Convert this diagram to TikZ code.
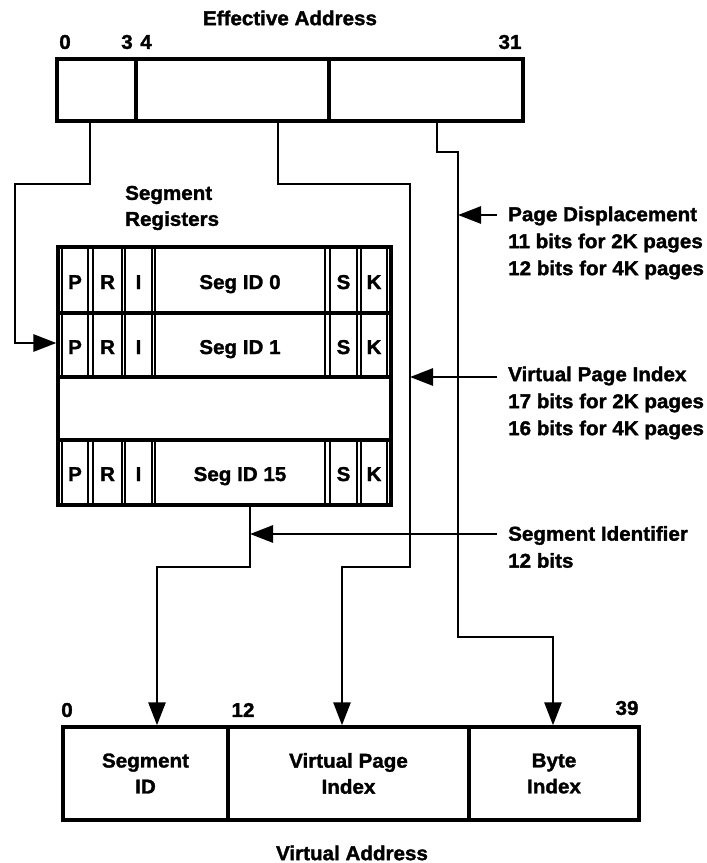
\documentclass[tikz,border=0pt]{standalone}
\usepackage{fontspec}
\setmainfont{Liberation Sans}[FakeStretch=1.03,FakeBold=1.6]
\usetikzlibrary{arrows.meta}
\begin{document}
\begin{tikzpicture}[x=1pt,y=-1pt,
  every node/.style={font=\fontsize{20}{26}\selectfont\bfseries, inner sep=0pt},
  field/.style={draw, line width=3.4pt},
  wire/.style={line width=2.8pt},
  wirearrow/.style={wire, -{Triangle[length=23pt,width=17pt]}},
  cellline/.style={line width=2.2pt},
  rowline/.style={line width=3.2pt},
  sidelabel/.style={anchor=west, align=left, font=\fontsize{20}{27}\selectfont\bfseries}
]
\useasboundingbox (0,0) rectangle (707,863);

% Effective address
\node (eatitle) at (290,18) {Effective Address};
\node (eab0) at (65,42) {0};
\node (eab3) at (127,42) {3};
\node (eab4) at (146,42) {4};
\node (eab31) at (510,42) {31};
\node[field, minimum width=79pt, minimum height=62pt] (ea0) at (96.5,90) {};
\node[field, minimum width=193pt, minimum height=62pt] (ea1) at (232.5,90) {};
\node[field, minimum width=194pt, minimum height=62pt] (ea2) at (426,90) {};

% Segment registers
\node[anchor=west, align=left] (srtitle) at (125,208) {Segment\\Registers};
\node[draw, line width=3.2pt, minimum width=333pt, minimum height=258pt] (sr) at (224.5,376) {};
\draw[rowline] (58,313) -- (391,313);
\draw[rowline] (58,377) -- (391,377);
\draw[rowline] (58,440) -- (391,440);
\foreach \ya/\yb in {247/313, 313/377, 440/505}{
  \foreach \xx in {62,88,93,122,125,152,155,325,330,357,361,387}{
    \draw[cellline] (\xx,\ya) -- (\xx,\yb);
  }
}
\foreach \yy/\nm/\lab in {282/a/0, 347/b/1, 474/c/15}{
  \node[text height=14pt, text depth=0pt] (p\nm) at (75,\yy) {P};
  \node[text height=14pt, text depth=0pt] (r\nm) at (107.5,\yy) {R};
  \node[text height=14pt, text depth=0pt] (i\nm) at (138.5,\yy) {I};
  \node[text height=14pt, text depth=0pt] (sid\nm) at (240,\yy) {Seg ID \lab};
  \node[text height=14pt, text depth=0pt] (s\nm) at (343.5,\yy) {S};
  \node[text height=14pt, text depth=0pt] (k\nm) at (374,\yy) {K};
}

% Virtual address
\node (vab0) at (67,710) {0};
\node (vab12) at (243,710) {12};
\node (vab39) at (627,708) {39};
\node[field, minimum width=165pt, minimum height=93pt, align=center] (va0) at (145.5,773.5) {Segment\\ID};
\node[field, minimum width=241pt, minimum height=93pt, align=center] (va1) at (348.5,773.5) {Virtual Page\\Index};
\node[field, minimum width=170pt, minimum height=93pt, align=center] (va2) at (554,773.5) {Byte\\Index};
\node (vatitle) at (352,853) {Virtual Address};

% Side labels
\node[sidelabel] (pd) at (508,243) {Page Displacement\\11 bits for 2K pages\\12 bits for 4K pages};
\node[sidelabel] (vpi) at (508,403) {Virtual Page Index\\17 bits for 2K pages\\16 bits for 4K pages};
\node[sidelabel] (sid) at (508,547) {Segment Identifier\\12 bits};

% Wire coordinates
\coordinate (a1) at (90,184);
\coordinate (a2) at (15,184);
\coordinate (a3) at (15,343);
\coordinate (b1) at (278,184);
\coordinate (b2) at (410,184);
\coordinate (b3) at (410,567);
\coordinate (b4) at (342,567);
\coordinate (c1) at (437,152);
\coordinate (c2) at (458,152);
\coordinate (c3) at (458,637);
\coordinate (c4) at (553,637);
\coordinate (s1) at (250,567);
\coordinate (s2) at (157,567);
\coordinate (pdt) at (497,215);
\coordinate (vpt) at (497,377);
\coordinate (sit) at (497,534);

% Wires
\draw[wirearrow] (ea0.south -| a1) -- (a1) -- (a2) -- (a3) -- (a3 -| sr.west);
\draw[wirearrow] (ea1.south -| b1) -- (b1) -- (b2) -- (b3) -- (b4) -- (b4 |- va1.north);
\draw[wirearrow] (ea2.south -| c1) -- (c1) -- (c2) -- (c3) -- (c4) -- (c4 |- va2.north);
\draw[wirearrow] (sr.south -| s1) -- (s1) -- (s2) -- (s2 |- va0.north);

% Label arrows
\draw[wirearrow] (pdt) -- (pdt -| c2);
\draw[wirearrow] (vpt) -- (vpt -| b2);
\draw[wirearrow] (sit) -- (sit -| s1);
\end{tikzpicture}
\end{document}
